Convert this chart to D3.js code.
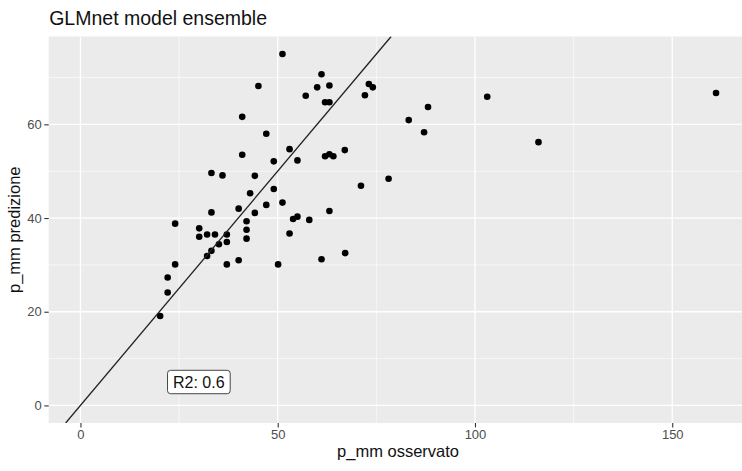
<!DOCTYPE html>
<html>
<head>
<meta charset="utf-8">
<script src="https://cdn.jsdelivr.net/npm/d3@7"></script>
<style>
  body { margin: 0; background: #fff; }
  text { font-family: "Liberation Sans", Arial, Helvetica, sans-serif; }
</style>
</head>
<body>
<script>
// values
const observed = [51.2, 45.1, 61.1, 60.0, 63.1, 57.1, 62.0, 63.1, 73.1, 74.1, 72.1,
  41.0, 47.1, 53.0, 41.0, 49.0, 55.0, 62.0, 63.1, 64.1, 67.0, 33.2, 36.0, 44.2,
  78.1, 71.1, 43.0, 49.0, 47.1, 51.2, 40.1, 33.2, 44.2, 63.1, 24.0, 42.1, 30.1,
  30.1, 32.1, 34.1, 37.1, 42.1, 42.1, 53.0, 37.1, 35.1, 33.2, 32.1, 53.9, 55.0,
  58.0, 37.1, 40.1, 50.1, 61.1, 67.1, 24.0, 22.1, 22.1, 20.2, 88.1, 83.2, 87.1,
  103.1, 116.1, 161.1];
const predicted = [75.0, 68.2, 70.7, 67.9, 68.3, 66.1, 64.7, 64.7, 68.6, 67.9, 66.2,
  61.6, 58.0, 54.7, 53.5, 52.1, 52.3, 53.2, 53.6, 53.2, 54.5, 49.6, 49.1, 49.0,
  48.4, 46.9, 45.3, 46.2, 42.8, 43.3, 42.0, 41.2, 41.1, 41.5, 38.8, 39.3, 37.8,
  36.0, 36.5, 36.5, 36.5, 37.5, 35.6, 36.7, 34.9, 34.4, 33.0, 31.9, 39.8, 40.3,
  39.6, 30.1, 31.0, 30.1, 31.2, 32.5, 30.1, 27.3, 24.1, 19.1, 63.7, 60.9, 58.3,
  65.9, 56.2, 66.7];
const xBreaks = [0, 50, 100, 150];
const xMinor = [25, 75, 125];
const yBreaks = [0, 20, 40, 60];
const yMinor = [10, 30, 50, 70];
const r2Label = 'R2: 0.6';
const r2Pos = [30, 5];

const width = 742;
const height = 471;

const svg = d3.select('body').append('svg')
    .attr('width', width)
    .attr('height', height);

// ggplot style limits: data range incl. 0, expanded 5%
const x = d3.scaleLinear().domain([-8.05, 169.05]).range([48.7, 747.4]);
const y = d3.scaleLinear().domain([-3.75, 78.75]).range([423, 36.5]);

const [px0, px1] = x.range();
const [py1, py0] = y.range();

svg.append('defs').append('clipPath').attr('id', 'panel')
  .append('rect')
    .attr('x', px0).attr('y', py0)
    .attr('width', px1 - px0).attr('height', py1 - py0);

// panel background
svg.append('rect')
    .attr('x', px0).attr('y', py0)
    .attr('width', px1 - px0).attr('height', py1 - py0)
    .attr('fill', '#ebebeb');

const grid = svg.append('g').attr('clip-path', 'url(#panel)');

grid.selectAll('.xminor').data(xMinor).enter().append('line')
    .attr('x1', d => x(d)).attr('x2', d => x(d))
    .attr('y1', py0).attr('y2', py1)
    .attr('stroke', '#fff').attr('stroke-width', 0.6);
grid.selectAll('.yminor').data(yMinor).enter().append('line')
    .attr('y1', d => y(d)).attr('y2', d => y(d))
    .attr('x1', px0).attr('x2', px1)
    .attr('stroke', '#fff').attr('stroke-width', 0.6);
grid.selectAll('.xmajor').data(xBreaks).enter().append('line')
    .attr('x1', d => x(d)).attr('x2', d => x(d))
    .attr('y1', py0).attr('y2', py1)
    .attr('stroke', '#fff').attr('stroke-width', 1.3);
grid.selectAll('.ymajor').data(yBreaks).enter().append('line')
    .attr('y1', d => y(d)).attr('y2', d => y(d))
    .attr('x1', px0).attr('x2', px1)
    .attr('stroke', '#fff').attr('stroke-width', 1.3);

// points
const points = observed.map((d, i) => ({obs: d, pred: predicted[i]}));
svg.append('g').selectAll('circle')
    .data(points)
    .enter().append('circle')
    .attr('cx', d => x(d.obs))
    .attr('cy', d => y(d.pred))
    .attr('r', 3.3)
    .attr('fill', '#000');

// identity line y = x
const lo = y.domain()[0], hi = y.domain()[1];
svg.append('line')
    .attr('clip-path', 'url(#panel)')
    .attr('x1', x(lo)).attr('y1', y(lo))
    .attr('x2', x(hi)).attr('y2', y(hi))
    .attr('stroke', '#222').attr('stroke-width', 1.3);

// R2 label
const lab = svg.append('g')
    .attr('transform', `translate(${x(r2Pos[0])},${y(r2Pos[1])})`);
const labText = lab.append('text')
    .attr('text-anchor', 'middle')
    .attr('dy', '0.36em')
    .style('font-size', '16px')
    .attr('fill', '#111')
    .text(r2Label);
const bb = labText.node().getBBox();
lab.insert('rect', 'text')
    .attr('x', bb.x - 5.5).attr('y', -11.7)
    .attr('width', bb.width + 11).attr('height', 23.4)
    .attr('rx', 3)
    .attr('fill', '#fff')
    .attr('stroke', '#333').attr('stroke-width', 0.9);

// axes
const xAxis = svg.append('g')
    .attr('transform', `translate(0,${py1})`)
    .call(d3.axisBottom(x).tickValues(xBreaks).tickSize(4.4).tickPadding(2.5));
const yAxis = svg.append('g')
    .attr('transform', `translate(${px0},0)`)
    .call(d3.axisLeft(y).tickValues(yBreaks).tickSize(4.4).tickPadding(2.5));

[xAxis, yAxis].forEach(a => {
  a.select('.domain').remove();
  a.selectAll('.tick line').attr('stroke', '#333').attr('stroke-width', 1.1);
  a.selectAll('.tick text')
      .attr('fill', '#4d4d4d')
      .style('font-size', '13px')
      .style('font-family', '"Liberation Sans", Arial, Helvetica, sans-serif');
});

// titles
svg.append('text')
    .attr('x', px0 + 0.5).attr('y', 25)
    .style('font-size', '19.5px')
    .attr('fill', '#111')
    .text('GLMnet model ensemble');

svg.append('text')
    .attr('x', (px0 + px1) / 2).attr('y', 457)
    .attr('text-anchor', 'middle')
    .style('font-size', '16.5px')
    .attr('fill', '#111')
    .text('p_mm osservato');

svg.append('text')
    .attr('transform', `translate(19.5,${(py0 + py1) / 2}) rotate(-90)`)
    .attr('text-anchor', 'middle')
    .style('font-size', '16.5px')
    .attr('fill', '#111')
    .text('p_mm predizione');
</script>
</body>
</html>
